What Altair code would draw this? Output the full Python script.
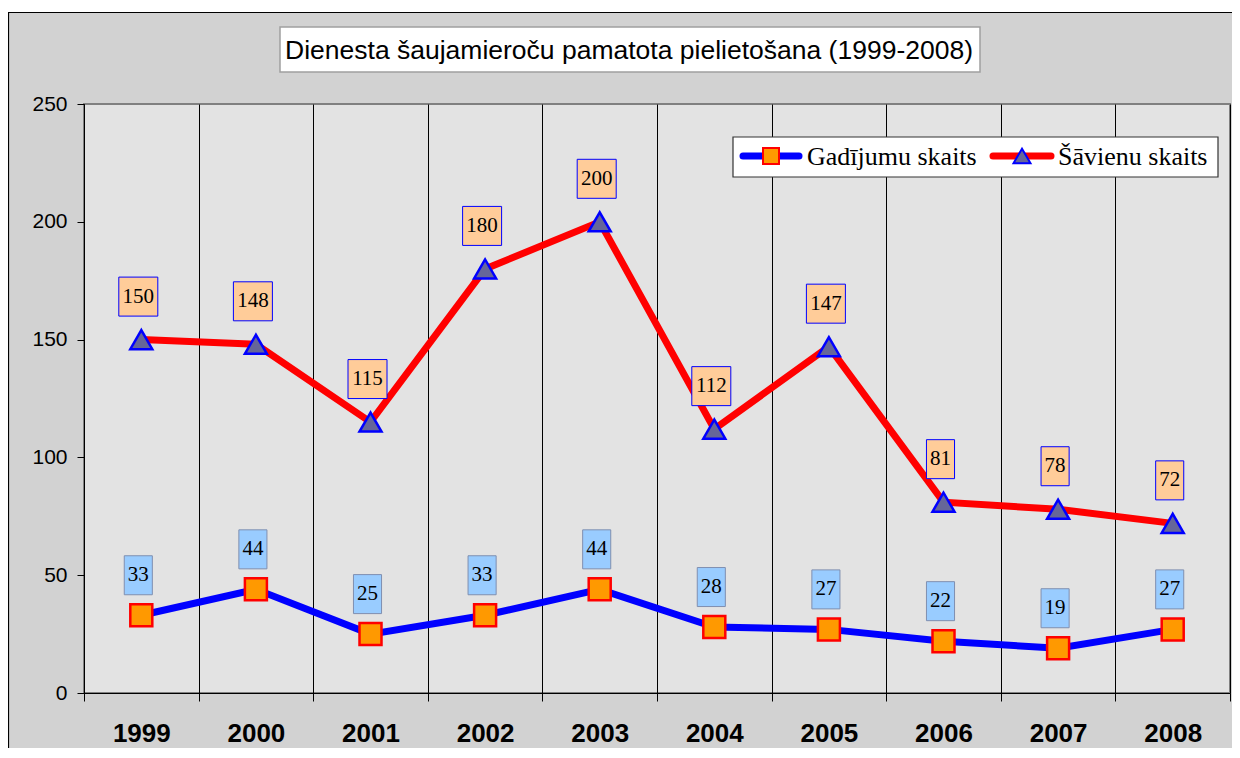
import altair as alt
import pandas as pd

# ---- data ----
years = ["1999", "2000", "2001", "2002", "2003", "2004", "2005", "2006", "2007", "2008"]
gadijumu = [33, 44, 25, 33, 44, 28, 27, 22, 19, 27]
savienu = [150, 148, 115, 180, 200, 112, 147, 81, 78, 72]
series_names = ["Gadījumu skaits", "Šāvienu skaits"]
title_text = "Dienesta šaujamieroču pamatota pielietošana (1999-2008)"
y_ticks = [0, 50, 100, 150, 200, 250]

W, H = 1146, 589

BOX3 = "M-1,-1L1,-1L1,1L-1,1Z"
BOX2 = "M-0.72,-1L0.72,-1L0.72,1L-0.72,1Z"


def make_df(values, name):
    return pd.DataFrame({
        "year": years,
        "value": values,
        "series": name,
        "label": [str(v) for v in values],
        "box": [BOX3 if len(str(v)) == 3 else BOX2 for v in values],
    })


df_g = make_df(gadijumu, series_names[0])
df_s = make_df(savienu, series_names[1])
dummy = pd.DataFrame({"a": [0]})

x_enc = alt.X(
    "year:N",
    scale=alt.Scale(type="band", paddingInner=0, paddingOuter=0),
    axis=alt.Axis(
        title=None, labelAngle=0, tickBand="extent", grid=True,
        gridColor="black", gridWidth=1, gridOpacity=1,
        domainColor="black", tickColor="black", tickSize=8,
        labelFont="Liberation Sans", labelFontWeight="bold", labelFontSize=26,
        labelColor="black", labelPadding=19,
    ),
)
y_enc = alt.Y(
    "value:Q",
    scale=alt.Scale(domain=[0, 250], nice=False, zero=True),
    axis=alt.Axis(
        title=None, values=y_ticks, grid=False,
        domainColor="black", tickColor="black", tickSize=7,
        labelFont="Liberation Sans", labelFontSize=21, labelColor="black",
        labelPadding=10,
    ),
)

# ---- decorations ----
strip = alt.Chart(dummy).mark_rect(color="white").encode(
    x=alt.value(-80), x2=alt.value(W + 10), y=alt.value(-100), y2=alt.value(-92))
frame = alt.Chart(dummy).mark_rect(fillOpacity=0, stroke="black", strokeWidth=1.2).encode(
    x=alt.value(-75.5), x2=alt.value(W + 40), y=alt.value(-91.5), y2=alt.value(H + 100))

# ---- data layers ----
lines = []
points = []
boxes = []
texts = []
for df, lcol, shape, pfill, pstroke, bfill, bstroke, yoff in [
    (df_g, "#0000ff", "square", "#ff9900", "#ff0000", "#99ccff", "#7f8fb0", -40),
    (df_s, "#ff0000", "triangle-up", "#666699", "#0000ff", "#ffcc99", "#0000ff", -43),
]:
    base = alt.Chart(df).encode(x=x_enc, y=y_enc)
    lines.append(base.mark_line(color=lcol, strokeWidth=7))
    points.append(base.mark_point(shape=shape, filled=True, fill=pfill, stroke=pstroke,
                                  strokeWidth=2.5, size=484, opacity=1))
    boxes.append(base.mark_point(filled=True, fill=bfill, stroke=bstroke, strokeWidth=1,
                                 size=1521, opacity=1, xOffset=-3, yOffset=yoff)
                 .encode(shape=alt.Shape("box:N", scale=None)))
    texts.append(base.mark_text(font="Liberation Serif", fontSize=21, color="black",
                                baseline="middle", align="center", xOffset=-3, yOffset=yoff)
                 .encode(text="label:N"))

# ---- title ----
title_box = alt.Chart(dummy).mark_rect(fill="white", stroke="#a0a0a0", strokeWidth=1.5).encode(
    x=alt.value(196), x2=alt.value(896), y=alt.value(-77), y2=alt.value(-32))
title = alt.Chart(dummy).mark_text(font="Liberation Sans", fontSize=26.5, color="black",
                                   align="center", baseline="middle").encode(
    x=alt.value(545), y=alt.value(-53), text=alt.value(title_text))

# ---- legend ----
leg_box = alt.Chart(dummy).mark_rect(fill="white", stroke="#333333", strokeWidth=1.2).encode(
    x=alt.value(649), x2=alt.value(1134), y=alt.value(33), y2=alt.value(73))
leg_line1 = alt.Chart(dummy).mark_rule(color="#0000ff", strokeWidth=7, strokeCap="round").encode(
    x=alt.value(659), x2=alt.value(715), y=alt.value(52))
leg_sym1 = alt.Chart(dummy).mark_point(shape="square", filled=True, fill="#ff9900", stroke="#ff0000",
                                       strokeWidth=2, size=256, opacity=1).encode(
    x=alt.value(687), y=alt.value(52))
leg_txt1 = alt.Chart(dummy).mark_text(font="Liberation Serif", fontSize=26, color="black",
                                      align="left", baseline="middle").encode(
    x=alt.value(723), y=alt.value(53), text=alt.value(series_names[0]))
leg_line2 = alt.Chart(dummy).mark_rule(color="#ff0000", strokeWidth=7, strokeCap="round").encode(
    x=alt.value(909), x2=alt.value(967), y=alt.value(52))
leg_sym2 = alt.Chart(dummy).mark_point(shape="triangle-up", filled=True, fill="#666699", stroke="#0000ff",
                                       strokeWidth=2, size=289, opacity=1).encode(
    x=alt.value(938), y=alt.value(52))
leg_txt2 = alt.Chart(dummy).mark_text(font="Liberation Serif", fontSize=26, color="black",
                                      align="left", baseline="middle").encode(
    x=alt.value(974), y=alt.value(53), text=alt.value(series_names[1]))

chart = alt.layer(
    strip, frame,
    *lines, *points, *boxes, *texts,
    title_box, title,
    leg_box, leg_line1, leg_sym1, leg_txt1, leg_line2, leg_sym2, leg_txt2,
).properties(
    width=W, height=H,
    padding={"left": 76, "top": 96, "right": 2, "bottom": 55},
    autosize="none",
    background="#d2d2d2",
).configure_view(
    fill="#e3e3e3", stroke="#808080", strokeWidth=2,
)

chart.save("out.html", embed_options={"renderer": "svg", "actions": False})
